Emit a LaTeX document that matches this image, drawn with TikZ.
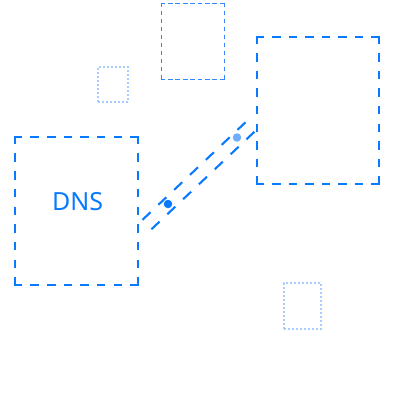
\documentclass[tikz,border=0pt]{standalone}
\usepackage{fontspec}
\setmainfont{Noto Sans}
\usetikzlibrary{calc}
\definecolor{mainblue}{HTML}{087AFF}
\definecolor{midblue}{HTML}{2F88FF}
\definecolor{paleblue}{HTML}{A9CCFF}
\definecolor{dotlight}{HTML}{6EADFF}
\tikzset{
  boxarea/.style={draw=none, inner sep=0pt},
  bigline/.style={draw=mainblue, line width=2.1pt},
  thinline/.style={draw=midblue, line width=1.4pt},
  palebox/.style={draw=paleblue, line width=1.1pt, dash pattern=on 2pt off 2pt, inner sep=0pt},
  chan/.style={draw=mainblue, line width=2.1pt, dash pattern=on 11pt off 10.8pt},
  dotdark/.style={circle, fill=mainblue, inner sep=0pt, minimum size=8.5pt},
  dotpale/.style={circle, fill=dotlight, inner sep=0pt, minimum size=8.5pt},
  lbl/.style={text=mainblue, font=\fontsize{25}{30}\selectfont}
}
% #1 node, #2 line style, #3 dash length, #4 gap on horizontal sides, #5 gap on vertical sides, #6 half line width
\newcommand{\dashsides}[6]{%
  \draw[#2, dash pattern=on #3 off #4] ([xshift=-#6]#1.north west) -- ([xshift=#6]#1.north east);
  \draw[#2, dash pattern=on #3 off #4] ([xshift=-#6]#1.south west) -- ([xshift=#6]#1.south east);
  \draw[#2, dash pattern=on #3 off #5] ([yshift=#6]#1.north west) -- ([yshift=-#6]#1.south west);
  \draw[#2, dash pattern=on #3 off #5] ([yshift=#6]#1.north east) -- ([yshift=-#6]#1.south east);
}
\begin{document}
\begin{tikzpicture}[x=1pt,y=-1pt]
\useasboundingbox (0,0) rectangle (400,400);
% boxes
\node[boxarea, minimum width=123pt, minimum height=148pt] (dns) at (76.5,211) {};
\dashsides{dns}{bigline}{8.5pt}{8.14pt}{9.19pt}{1.05pt}
\node[lbl] (dnslabel) at (77.5,201.5) {DNS};
\node[boxarea, minimum width=122pt, minimum height=147pt] (srv) at (318,110.5) {};
\dashsides{srv}{bigline}{8.5pt}{8.0pt}{9.06pt}{1.05pt}
\node[boxarea, minimum width=63pt, minimum height=76pt] (top) at (193,41.5) {};
\dashsides{top}{thinline}{4.7pt}{2.7pt}{3.3pt}{0.7pt}
\node[palebox, minimum width=30pt, minimum height=35pt] (small) at (113,84.5) {};
\node[palebox, minimum width=37pt, minimum height=46pt] (br) at (302.5,306) {};
% channel
\coordinate (ca) at (147,224.5);
\coordinate (cb) at (250,127);
\draw[chan] ($(ca)!6.5pt!90:(cb)$) -- ($(cb)!6.5pt!-90:(ca)$);
\draw[chan] ($(ca)!6.5pt!-90:(cb)$) -- ($(cb)!6.5pt!90:(ca)$);
\node[dotdark] (d1) at (168,204) {};
\node[dotpale] (d2) at (237,137.5) {};
\end{tikzpicture}
\end{document}
